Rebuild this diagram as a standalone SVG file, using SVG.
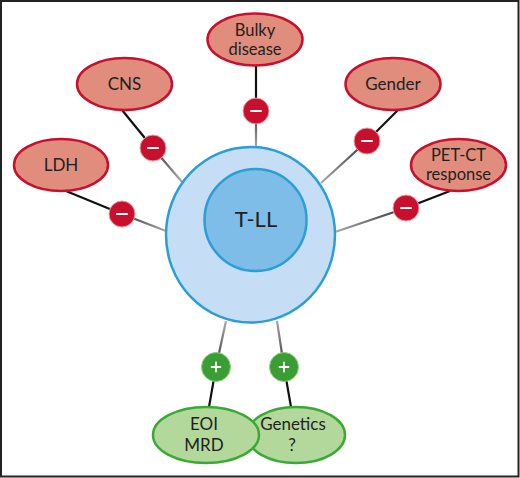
<svg xmlns="http://www.w3.org/2000/svg" width="520" height="478" viewBox="0 0 520 478">
<defs>
<style>
.neg{fill:#e08d7d;stroke:#c8102e;stroke-width:2.5}
.pos{fill:#b3d89c;stroke:#3aaa35;stroke-width:2.5}
.mb{fill:#c8102e;stroke:#e9a0a0;stroke-width:1}
.pb{fill:#3a9e35;stroke:#8fcf7f;stroke-width:1}
.sign{stroke:#ffffff;stroke-width:2;stroke-linecap:round}
.blk{stroke:#111111;stroke-width:2.2}
.t{font-family:Lato,"Noto Sans","Liberation Sans",sans-serif;font-size:17px;fill:#231f20;text-anchor:middle}
.t2{font-size:16.5px}
</style>
<linearGradient id="gB" gradientUnits="userSpaceOnUse" x1="256" y1="111" x2="256" y2="147"><stop offset="0" stop-color="#333"/><stop offset="1" stop-color="#aaa"/></linearGradient>
<linearGradient id="gC" gradientUnits="userSpaceOnUse" x1="153" y1="148" x2="182" y2="181"><stop offset="0" stop-color="#333"/><stop offset="1" stop-color="#aaa"/></linearGradient>
<linearGradient id="gL" gradientUnits="userSpaceOnUse" x1="122" y1="214" x2="166" y2="231"><stop offset="0" stop-color="#333"/><stop offset="1" stop-color="#aaa"/></linearGradient>
<linearGradient id="gG" gradientUnits="userSpaceOnUse" x1="367" y1="141" x2="321" y2="183"><stop offset="0" stop-color="#333"/><stop offset="1" stop-color="#aaa"/></linearGradient>
<linearGradient id="gP" gradientUnits="userSpaceOnUse" x1="406" y1="208" x2="335" y2="232"><stop offset="0" stop-color="#333"/><stop offset="1" stop-color="#aaa"/></linearGradient>
<linearGradient id="gE" gradientUnits="userSpaceOnUse" x1="216" y1="367" x2="226" y2="321"><stop offset="0" stop-color="#333"/><stop offset="1" stop-color="#aaa"/></linearGradient>
<linearGradient id="gN" gradientUnits="userSpaceOnUse" x1="284" y1="367" x2="277" y2="321"><stop offset="0" stop-color="#333"/><stop offset="1" stop-color="#aaa"/></linearGradient>
</defs>
<rect x="0" y="0" width="520" height="478" fill="#ffffff"/>
<rect x="1" y="1" width="517.5" height="475.5" fill="#ffffff" stroke="#222222" stroke-width="2"/>
<g id="connectors">
<line class="blk" x1="256" y1="66" x2="256" y2="111"/>
<line x1="256" y1="111" x2="256" y2="148" stroke="url(#gB)" stroke-width="2.2"/>
<line class="blk" x1="122" y1="110" x2="153" y2="148"/>
<line x1="153" y1="148" x2="182" y2="182" stroke="url(#gC)" stroke-width="2.2"/>
<line class="blk" x1="66" y1="191" x2="122" y2="214"/>
<line x1="122" y1="214" x2="166" y2="231" stroke="url(#gL)" stroke-width="2.2"/>
<line class="blk" x1="398" y1="110" x2="367" y2="141"/>
<line x1="367" y1="141" x2="321" y2="183" stroke="url(#gG)" stroke-width="2.2"/>
<line class="blk" x1="450" y1="191" x2="406" y2="208"/>
<line x1="406" y1="208" x2="335" y2="232" stroke="url(#gP)" stroke-width="2.2"/>
<line class="blk" x1="209" y1="407" x2="216" y2="367"/>
<line x1="216" y1="367" x2="226" y2="321" stroke="url(#gE)" stroke-width="2.2"/>
<line class="blk" x1="291" y1="407" x2="284" y2="367"/>
<line x1="284" y1="367" x2="277" y2="321" stroke="url(#gN)" stroke-width="2.2"/>
</g>
<g id="tll">
<ellipse cx="250.5" cy="234.8" rx="84.5" ry="87.8" fill="#c5def5" stroke="#2a9ed6" stroke-width="2.5"/>
<circle cx="255.5" cy="220" r="51" fill="#7dbde8" stroke="#2a9ed6" stroke-width="2.5"/>
<text x="256" y="227" class="t" style="font-size:22px">T-LL</text>
</g>
<g id="bulky">
<ellipse class="neg" cx="255" cy="39.5" rx="47.5" ry="26"/>
<text x="255" y="35.5" class="t t2">Bulky</text>
<text x="255" y="54.5" class="t t2">disease</text>
</g>
<g id="cns">
<ellipse class="neg" cx="124.5" cy="84" rx="47.5" ry="26"/>
<text x="124.5" y="90" class="t">CNS</text>
</g>
<g id="ldh">
<ellipse class="neg" cx="61" cy="165" rx="47" ry="26"/>
<text x="61" y="171" class="t">LDH</text>
</g>
<g id="gender">
<ellipse class="neg" cx="393" cy="84" rx="47.5" ry="26"/>
<text x="393" y="90" class="t">Gender</text>
</g>
<g id="petct">
<ellipse class="neg" cx="458.5" cy="165" rx="47.5" ry="26"/>
<text x="458.5" y="160.5" class="t t2">PET-CT</text>
<text x="458.5" y="179.5" class="t t2">response</text>
</g>
<g id="genetics">
<ellipse class="pos" cx="296" cy="435" rx="49" ry="28"/>
<text x="293" y="430" class="t">Genetics</text>
<text x="292" y="451" class="t">?</text>
</g>
<g id="eoi">
<ellipse class="pos" cx="206" cy="435" rx="53" ry="28"/>
<text x="204" y="430" class="t">EOI</text>
<text x="204" y="451" class="t">MRD</text>
</g>
<g id="badge-bulky"><circle class="mb" cx="256" cy="111" r="13"/><line class="sign" x1="251" y1="111" x2="261" y2="111"/></g>
<g id="badge-cns"><circle class="mb" cx="153" cy="148" r="13"/><line class="sign" x1="148" y1="148" x2="158" y2="148"/></g>
<g id="badge-ldh"><circle class="mb" cx="122" cy="214" r="13"/><line class="sign" x1="117" y1="214" x2="127" y2="214"/></g>
<g id="badge-gender"><circle class="mb" cx="367" cy="141" r="13"/><line class="sign" x1="362" y1="141" x2="372" y2="141"/></g>
<g id="badge-petct"><circle class="mb" cx="406" cy="208" r="13"/><line class="sign" x1="401" y1="208" x2="411" y2="208"/></g>
<g id="badge-eoi"><circle class="pb" cx="216" cy="367" r="14.5"/><line class="sign" x1="211.5" y1="367" x2="220.5" y2="367" style="stroke-width:1.8"/><line class="sign" x1="216" y1="362.5" x2="216" y2="371.5" style="stroke-width:1.8"/></g>
<g id="badge-genetics"><circle class="pb" cx="284" cy="367" r="14.5"/><line class="sign" x1="279.5" y1="367" x2="288.5" y2="367" style="stroke-width:1.8"/><line class="sign" x1="284" y1="362.5" x2="284" y2="371.5" style="stroke-width:1.8"/></g>
</svg>
